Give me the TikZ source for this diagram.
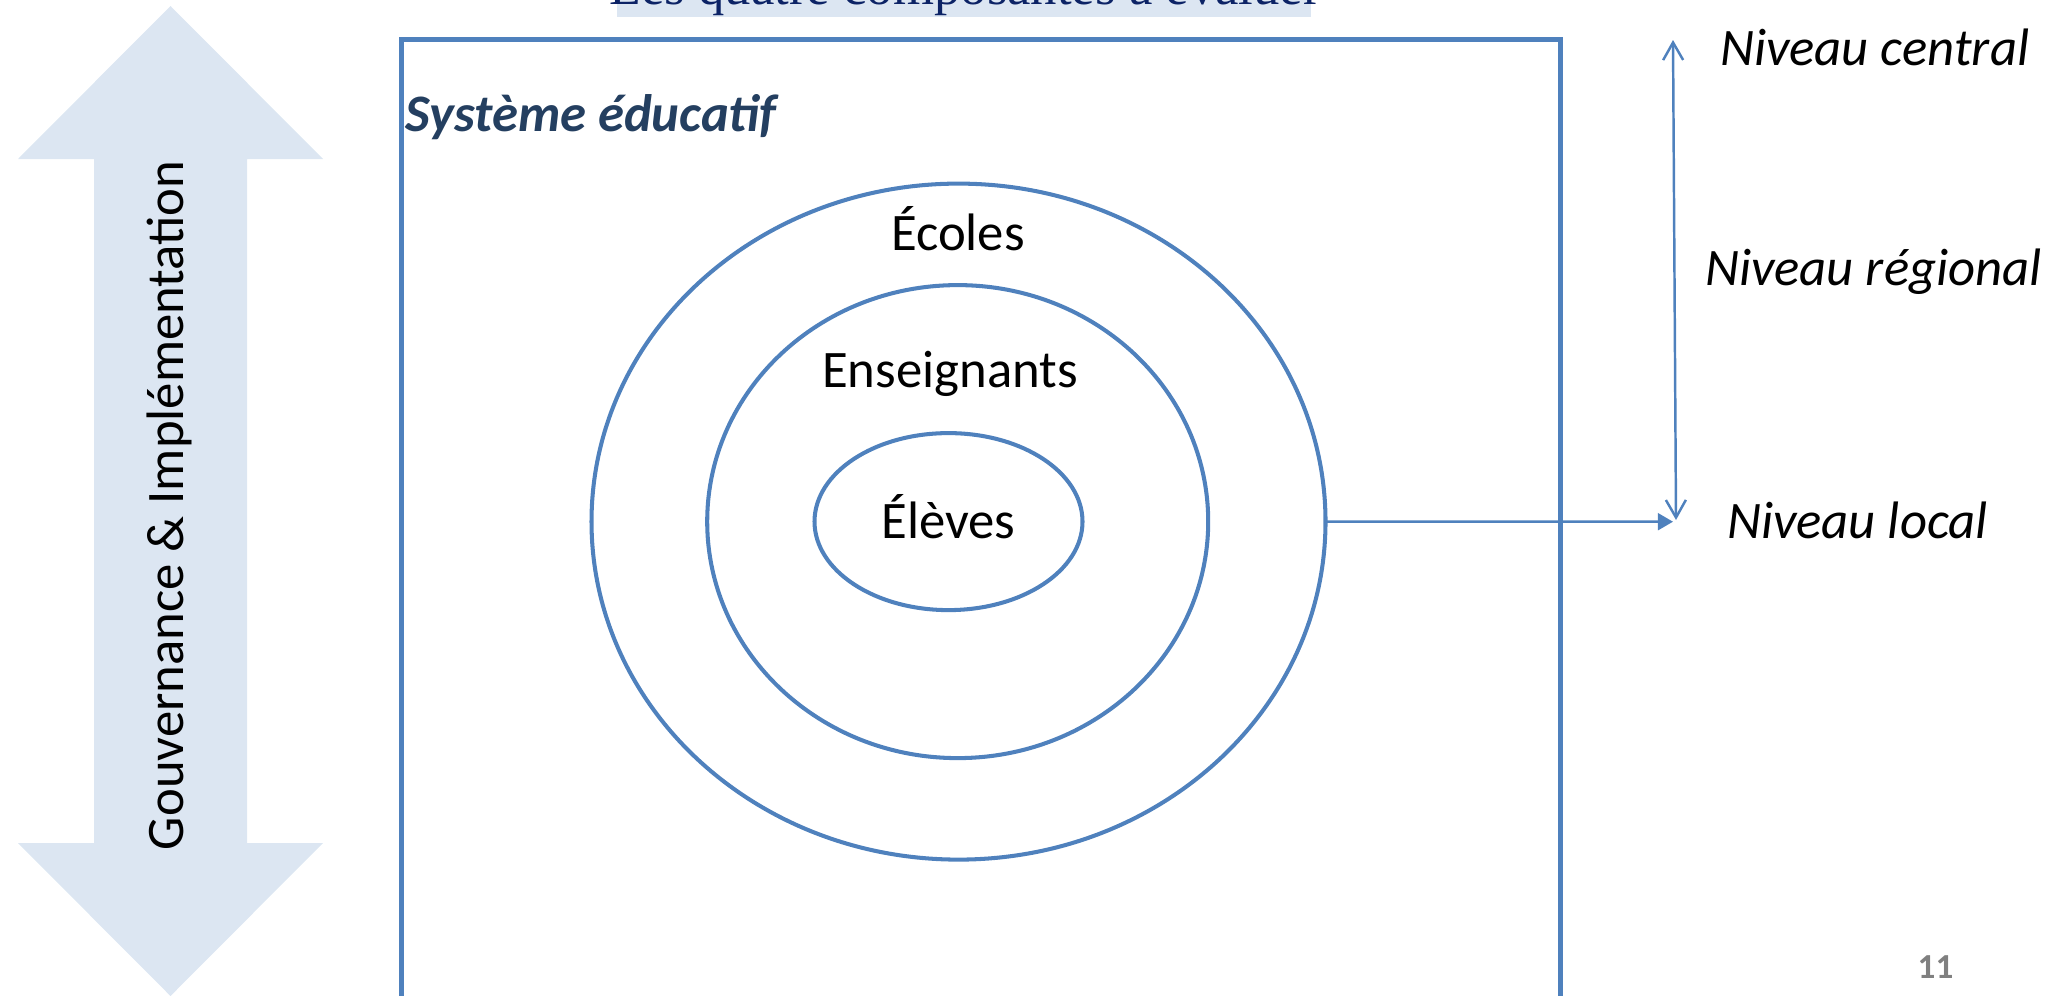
\documentclass[tikz,border=0pt]{standalone}
\usepackage{fontspec}
\setmainfont{Carlito}
\newfontfamily\titlefont{Liberation Serif}
\usetikzlibrary{shapes.geometric,arrows.meta}
\definecolor{acc}{RGB}{79,129,189}
\definecolor{lightbg}{RGB}{220,230,242}
\definecolor{navy}{RGB}{12,35,102}
\definecolor{slate}{RGB}{36,63,96}
\definecolor{pggray}{RGB}{128,128,128}
\begin{document}
\begin{tikzpicture}[x=0.1mm,y=-0.1mm,
  txt/.style={font=\fontsize{15}{18}\selectfont, inner sep=0, outer sep=0},
  itxt/.style={font=\fontsize{15}{18}\selectfont\itshape, inner sep=0, outer sep=0},
  ring/.style={draw=acc, line width=1.15pt, ellipse, inner sep=0, outer sep=0},
  conn/.style={draw=acc, line width=0.7pt}]
\clip (0,0) rectangle (2057,995);
% title strip (cut by the top edge)
\fill[lightbg] (617,-80) rectangle (1311,17);
\node[anchor=base, text=navy, font=\titlefont\fontsize{15}{18}\selectfont, inner sep=0] (title) at (965,4) {Les quatre composantes à évaluer};
% double arrow
\fill[lightbg] (170.5,6) -- (323,159) -- (247,159) -- (247,843) -- (323,843) -- (170.5,996) -- (18,843) -- (94,843) -- (94,159) -- (18,159) -- cycle;
\node[txt, rotate=90, anchor=base west] (gov) at (183,850) {Gouvernance \& Implémentation};
% system frame
\draw[acc, line width=1.42pt] (401,39.5) rectangle (1560,1200);
\node[anchor=base west, inner sep=0, text=slate, font=\fontsize{15}{18}\selectfont\bfseries\itshape] (sys) at (405,131) {Système éducatif};
% rings
\node[ring, minimum width=73.4mm, minimum height=67.6mm] (ecoles) at (958.5,521.6) {};
\node[ring, minimum width=50.1mm, minimum height=47.3mm] (ens) at (957.7,521.6) {};
\node[ring, minimum width=26.8mm, minimum height=17.7mm] (elev) at (948.5,521.6) {};
\node[txt, anchor=base] (lecoles) at (958,250) {Écoles};
\node[txt, anchor=base] (lens) at (950,387) {Enseignants};
\node[txt, anchor=base] (lelev) at (948.5,538) {Élèves};
% levels
\coordinate (ctop) at (1673,40);
\coordinate (cbot) at (1676,520);
\coordinate (cloc) at (1673,521.7);
\draw[conn, {Straight Barb[length=5pt,width=5.7pt]}-{Straight Barb[length=5pt,width=5.7pt]}] (ctop) -- (cbot);
\draw[conn, -{Triangle[length=4.3pt,width=4.8pt]}] (ecoles.east) -- (cloc);
\node[itxt, anchor=base west] (ncent) at (1720,65) {Niveau central};
\node[itxt, anchor=base west] (nreg) at (1705,285) {Niveau régional};
\node[itxt, anchor=base west] (nloc) at (1727,538) {Niveau local};
% page number
\node[anchor=base west, inner sep=0, text=pggray, font=\fontsize{10}{12}\selectfont\bfseries] (pg) at (1917,978) {11};
\end{tikzpicture}
\end{document}
